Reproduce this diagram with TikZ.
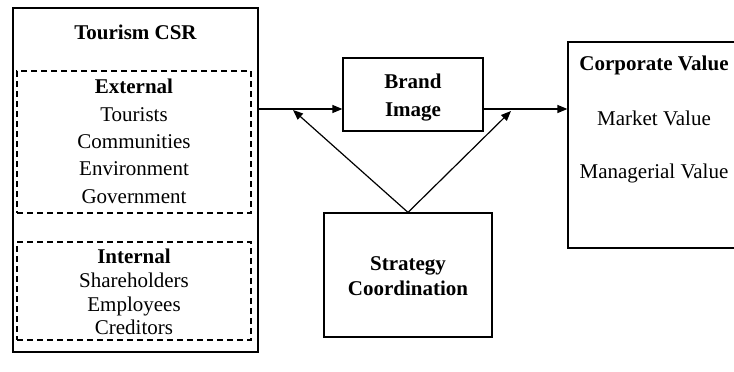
\documentclass[tikz,border=0pt]{standalone}
\usepackage{fontspec}
\setmainfont{Liberation Serif}
\usetikzlibrary{arrows.meta}
\begin{document}
\begin{tikzpicture}[x=1pt,y=-1pt,
  font=\fontsize{21}{25}\selectfont,
  box/.style={draw, line width=1.2pt, inner sep=0pt},
  dbox/.style={draw, line width=1.1pt, dash pattern=on 6pt off 4pt, inner sep=0pt},
  lbl/.style={inner sep=0pt, anchor=base},
  hd/.style={lbl, font=\fontsize{21}{25}\selectfont\bfseries},
  arr/.style={line width=1.2pt, -{Triangle[length=10pt,width=8pt]}}]
\useasboundingbox (0,0) rectangle (734,372);
% boxes
\node[box, minimum width=245pt, minimum height=344pt] (csr) at (135.5,180) {};
\node[dbox, minimum width=234pt, minimum height=142pt] (ext) at (134,142) {};
\node[dbox, minimum width=234pt, minimum height=98pt] (int) at (134,291) {};
\node[box, minimum width=140pt, minimum height=73pt] (brand) at (413,94.5) {};
\node[box, minimum width=168pt, minimum height=124pt] (strat) at (408,275) {};
\node[box, minimum width=170pt, minimum height=206pt] (corp) at (653,145) {};
% texts
\node[hd] (t0) at (135.5,39) {Tourism CSR};
\node[hd] (e0) at (134,93) {External};
\node[lbl] (e1) at (134,121) {Tourists};
\node[lbl] (e2) at (134,148) {Communities};
\node[lbl] (e3) at (134,175) {Environment};
\node[lbl] (e4) at (134,203) {Government};
\node[hd] (i0) at (134,263) {Internal};
\node[lbl] (i1) at (134,287) {Shareholders};
\node[lbl] (i2) at (134,311) {Employees};
\node[lbl] (i3) at (134,334) {Creditors};
\node[hd] (b0) at (413,88) {Brand};
\node[hd] (b1) at (413,116) {Image};
\node[hd] (s0) at (408,270) {Strategy};
\node[hd] (s1) at (408,295) {Coordination};
\node[hd] (c0) at (654,70) {Corporate Value};
\node[lbl] (c1) at (654,125) {Market Value};
\node[lbl] (c2) at (654,178) {Managerial Value};
% connectors
\coordinate (bin) at (343,109);
\coordinate (bout) at (483,109);
\coordinate (cin) at (568,109);
\coordinate (tl) at (293,110);
\coordinate (tr) at (511,111);
\draw[arr] (csr.east |- bin) -- (brand.west |- bin);
\draw[arr] (brand.east |- bout) -- (corp.west |- cin);
\draw[arr] (strat.north) -- (tl);
\draw[arr] (strat.north) -- (tr);
\end{tikzpicture}
\end{document}
